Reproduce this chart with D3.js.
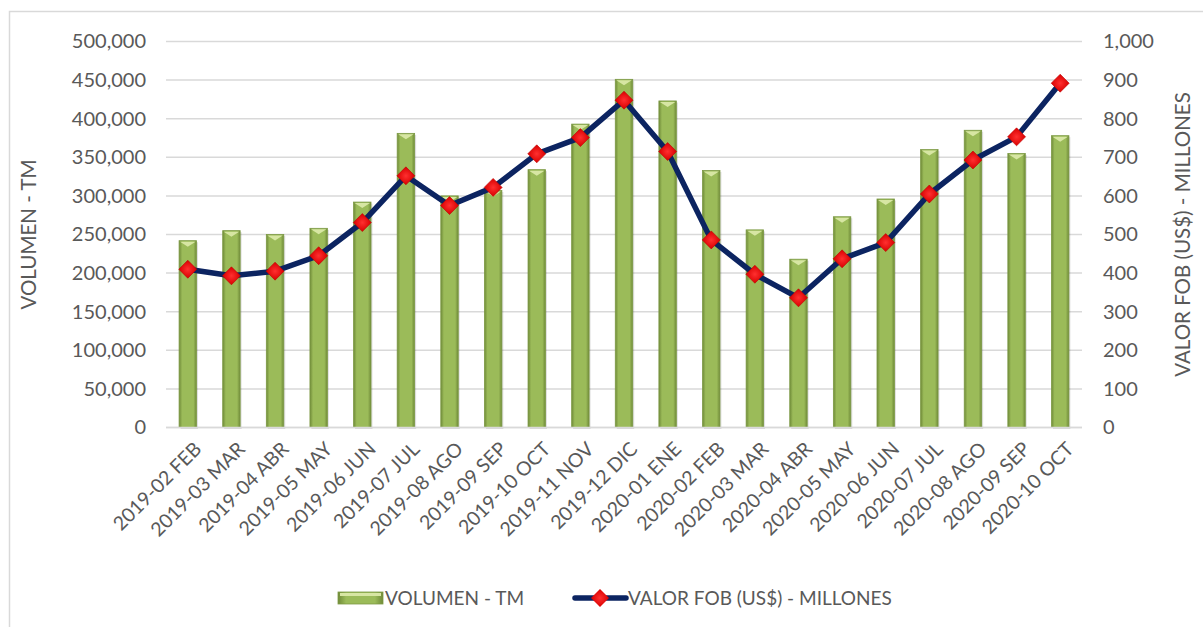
<!DOCTYPE html>
<html>
<head>
<meta charset="utf-8">
<script src="https://cdn.jsdelivr.net/npm/d3@7"></script>
<style>
  body { margin: 0; background: #fff; }
  text { font-family: Lato, "Open Sans", sans-serif; fill: #595959; }
</style>
</head>
<body>
<div id="chart"></div>
<script>
/* Data */
const months = [
  "2019-02 FEB", "2019-03 MAR", "2019-04 ABR", "2019-05 MAY", "2019-06 JUN",
  "2019-07 JUL", "2019-08 AGO", "2019-09 SEP", "2019-10 OCT", "2019-11 NOV",
  "2019-12 DIC", "2020-01 ENE", "2020-02 FEB", "2020-03 MAR", "2020-04 ABR",
  "2020-05 MAY", "2020-06 JUN", "2020-07 JUL", "2020-08 AGO", "2020-09 SEP",
  "2020-10 OCT"
];
const volumen = [
  242000, 255000, 250000, 258000, 292000, 381000, 300000, 307000, 334000, 393000,
  451000, 423000, 333000, 256000, 218000, 273000, 296000, 360000, 385000, 355000,
  378000
];
const valorFob = [
  410, 393, 405, 445, 531, 652, 575, 622, 709, 751,
  848, 715, 486, 397, 336, 437, 479, 605, 693, 753,
  892
];
const leftTicks = [0, 50000, 100000, 150000, 200000, 250000, 300000, 350000, 400000, 450000, 500000];
const rightTicks = [0, 100, 200, 300, 400, 500, 600, 700, 800, 900, 1000];

/* Dimensions */
const width = 1203;
const height = 627;
const margin = { top: 41.5, right: 121, bottom: 199.5, left: 166 };

const svg = d3.select("#chart")
  .append("svg")
  .attr("width", width)
  .attr("height", height);

const defs = svg.append("defs");

// bevel-like gradient for the bars
const barGrad = defs.append("linearGradient")
  .attr("id", "barGrad")
  .attr("x1", "0%").attr("x2", "100%");
barGrad.append("stop").attr("offset", "0%").attr("stop-color", "#6f8a38");
barGrad.append("stop").attr("offset", "18%").attr("stop-color", "#9bbb59");
barGrad.append("stop").attr("offset", "82%").attr("stop-color", "#9bbb59");
barGrad.append("stop").attr("offset", "100%").attr("stop-color", "#6f8a38");

const markerGrad = defs.append("radialGradient")
  .attr("id", "markerGrad");
markerGrad.append("stop").attr("offset", "0%").attr("stop-color", "#ff3030");
markerGrad.append("stop").attr("offset", "100%").attr("stop-color", "#d80000");

// outer chart border
svg.append("rect")
  .attr("x", 9.5).attr("y", 11.5)
  .attr("width", width).attr("height", height)
  .attr("fill", "none")
  .attr("stroke", "#d9d9d9")
  .attr("stroke-width", 1.5);

/* Scales */
const xScale = d3.scaleBand()
  .domain(months)
  .range([margin.left, width - margin.right])
  .paddingInner(0.6)
  .paddingOuter(0.3);

const yLeft = d3.scaleLinear()
  .domain([0, 500000])
  .range([height - margin.bottom, margin.top]);

const yRight = d3.scaleLinear()
  .domain([0, 1000])
  .range([height - margin.bottom, margin.top]);

// gridlines
svg.append("g")
  .selectAll("line")
  .data(leftTicks)
  .enter()
  .append("line")
  .attr("x1", margin.left)
  .attr("x2", width - margin.right)
  .attr("y1", d => yLeft(d))
  .attr("y2", d => yLeft(d))
  .attr("stroke", "#d9d9d9")
  .attr("stroke-width", 1.5);

// Left axis
const fmt = d3.format(",");
const leftAxis = svg.append("g")
  .attr("transform", `translate(${margin.left - 20},0)`)
  .call(d3.axisLeft(yLeft).tickValues(leftTicks).tickFormat(fmt).tickSize(0).tickPadding(0));
leftAxis.select(".domain").remove();
leftAxis.selectAll("text")
  .style("font-size", "20px")
  .style("font-family", "Lato, sans-serif")
  .attr("fill", "#595959");

// Right axis
const rightAxis = svg.append("g")
  .attr("transform", `translate(${width - margin.right + 21},0)`)
  .call(d3.axisRight(yRight).tickValues(rightTicks).tickFormat(fmt).tickSize(0).tickPadding(0));
rightAxis.select(".domain").remove();
rightAxis.selectAll("text")
  .style("font-size", "20px")
  .style("font-family", "Lato, sans-serif")
  .attr("fill", "#595959");

/* Bars */
const bars = svg.append("g")
  .selectAll("g")
  .data(months.map((m, i) => ({ month: m, value: volumen[i] })))
  .enter()
  .append("g");

bars.append("rect")
  .attr("x", d => xScale(d.month) + 1.5)
  .attr("y", d => yLeft(d.value) + 1.5)
  .attr("width", xScale.bandwidth())
  .attr("height", d => yLeft(0) - yLeft(d.value))
  .attr("fill", "#000")
  .attr("opacity", 0.12);

bars.append("rect")
  .attr("x", d => xScale(d.month))
  .attr("y", d => yLeft(d.value))
  .attr("width", xScale.bandwidth())
  .attr("height", d => yLeft(0) - yLeft(d.value))
  .attr("fill", "url(#barGrad)")
  .attr("stroke", "#7d9a45")
  .attr("stroke-width", 0.8);

// lighter top bevel
bars.append("path")
  .attr("d", d => {
    const x0 = xScale(d.month), w = xScale.bandwidth(), y0 = yLeft(d.value);
    return `M${x0 + 1},${y0 + 1}L${x0 + w - 1},${y0 + 1}L${x0 + w / 2},${y0 + 6}Z`;
  })
  .attr("fill", "#d7e6a3");

// x-axis baseline
svg.append("line")
  .attr("x1", margin.left)
  .attr("x2", width - margin.right)
  .attr("y1", yLeft(0))
  .attr("y2", yLeft(0))
  .attr("stroke", "#d9d9d9")
  .attr("stroke-width", 1.5);

// X labels
svg.append("g")
  .selectAll("text")
  .data(months)
  .enter()
  .append("text")
  .attr("transform", d => `translate(${xScale(d) + xScale.bandwidth() / 2 + 10},${yLeft(0) + 18}) rotate(-45)`)
  .attr("text-anchor", "end")
  .attr("dy", "0.35em")
  .style("font-size", "19.5px")
  .text(d => d);

/* Line */
const cx = d => xScale(d.month) + xScale.bandwidth() / 2;
const linePts = months.map((m, i) => ({ month: m, value: valorFob[i] }));

svg.append("path")
  .datum(linePts)
  .attr("fill", "none")
  .attr("stroke", "#0c2461")
  .attr("stroke-width", 5.5)
  .attr("stroke-linejoin", "round")
  .attr("d", d3.line().x(cx).y(d => yRight(d.value)));

svg.append("g")
  .selectAll("path")
  .data(linePts)
  .enter()
  .append("path")
  .attr("transform", d => `translate(${cx(d)},${yRight(d.value)})`)
  .attr("d", "M0,-9L9,0L0,9L-9,0Z")
  .attr("fill", "url(#markerGrad)")
  .attr("stroke", "#c00000")
  .attr("stroke-width", 0.6);

/* Axis titles */
svg.append("text")
  .attr("transform", `translate(36,${(yLeft(0) + yLeft(500000)) / 2}) rotate(-90)`)
  .attr("text-anchor", "middle")
  .style("font-size", "20.5px")
  .text("VOLUMEN - TM");

svg.append("text")
  .attr("transform", `translate(1190,${(yLeft(0) + yLeft(500000)) / 2}) rotate(-90)`)
  .attr("text-anchor", "middle")
  .style("font-size", "20.5px")
  .text("VALOR FOB (US$) - MILLONES");

/* Legend */
const legend = svg.append("g").attr("transform", "translate(0,598)");
legend.append("rect")
  .attr("x", 338).attr("y", -6)
  .attr("width", 45).attr("height", 12)
  .attr("fill", "url(#barGrad)")
  .attr("stroke", "#7d9a45")
  .attr("stroke-width", 0.8);
legend.append("rect")
  .attr("x", 340).attr("y", -5)
  .attr("width", 41).attr("height", 3)
  .attr("fill", "#d7e6a3");
legend.append("text")
  .attr("x", 385).attr("y", 0)
  .attr("dy", "0.35em")
  .style("font-size", "19px")
  .text("VOLUMEN - TM");

legend.append("line")
  .attr("x1", 575).attr("x2", 626)
  .attr("y1", 0).attr("y2", 0)
  .attr("stroke", "#0c2461")
  .attr("stroke-width", 5.5)
  .attr("stroke-linecap", "round");
legend.append("path")
  .attr("transform", "translate(600,0)")
  .attr("d", "M0,-9L9,0L0,9L-9,0Z")
  .attr("fill", "url(#markerGrad)");
legend.append("text")
  .attr("x", 628).attr("y", 0)
  .attr("dy", "0.35em")
  .style("font-size", "19px")
  .text("VALOR FOB (US$) - MILLONES");
</script>
</body>
</html>
